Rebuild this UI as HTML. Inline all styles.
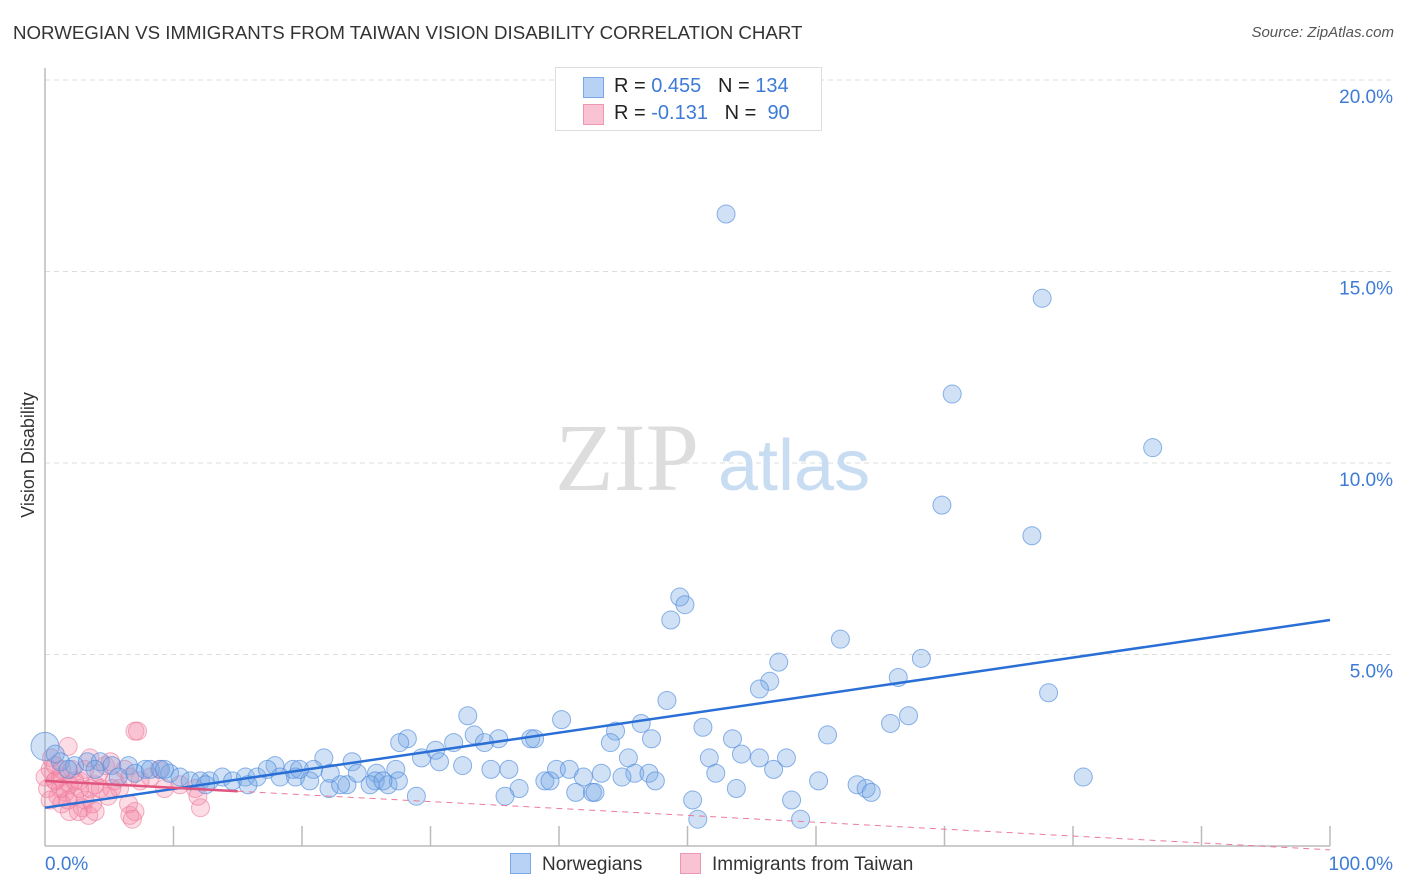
<!DOCTYPE html>
<html><head><meta charset="utf-8">
<style>
body{margin:0;background:#fff;font-family:"Liberation Sans",sans-serif;}
#wrap{position:relative;width:1406px;height:892px;overflow:hidden}
.t{position:absolute;white-space:nowrap}
</style></head>
<body><div id="wrap">
<div class="t" style="left:13px;top:22px;font-size:18.7px;color:#333">NORWEGIAN VS IMMIGRANTS FROM TAIWAN VISION DISABILITY CORRELATION CHART</div>
<div class="t" style="right:12px;top:24px;font-size:15px;color:#555;font-style:italic">Source: ZipAtlas.com</div>
<svg id="svg" width="1406" height="892" style="position:absolute;left:0;top:0"></svg>
</div>
<script>
const yTicks=[5,10,15,20];
const xLabels=["0.0%","100.0%"];
const blueX=[53.0,77.6,70.6,86.2,69.8,76.8,49.4,49.8,48.7,61.9,68.2,57.1,56.4,55.6,66.4,78.1,48.4,32.9,40.2,67.2,65.8,46.4,51.2,44.4,28.2,33.4,35.3,37.8,47.2,53.5,60.9,27.6,34.2,38.1,44.0,54.2,21.7,23.9,29.3,30.4,31.8,30.7,32.5,51.7,55.6,57.7,45.4,17.9,19.3,20.9,25.8,27.3,36.1,39.8,40.8,34.7,43.3,45.9,47.0,52.2,56.7,41.9,44.9,47.5,80.8,60.2,63.2,63.9,64.3,53.8,38.9,36.9,39.3,41.3,42.6,42.8,35.8,28.9,50.4,58.1,50.8,58.8,0,1.2,2.3,3.3,4.3,5.2,6.5,7.8,9.0,9.7,10.5,11.3,12.1,12.8,13.8,14.6,15.6,16.5,17.3,18.3,19.5,20.6,22.1,23.5,24.3,25.7,26.7,27.5,0.8,1.8,3.9,5.7,7.0,8.2,9.3,12.5,15.8,19.8,22.2,23.0,25.3,26.3];
const blueY=[16.5,14.3,11.8,10.4,8.9,8.1,6.5,6.3,5.9,5.4,4.9,4.8,4.3,4.1,4.4,4.0,3.8,3.4,3.3,3.4,3.2,3.2,3.1,3.0,2.8,2.9,2.8,2.8,2.8,2.8,2.9,2.7,2.7,2.8,2.7,2.4,2.3,2.2,2.3,2.5,2.7,2.2,2.1,2.3,2.3,2.3,2.3,2.1,2.0,2.0,1.9,2.0,2.0,2.0,2.0,2.0,1.9,1.9,1.9,1.9,2.0,1.8,1.8,1.7,1.8,1.7,1.6,1.5,1.4,1.5,1.7,1.5,1.7,1.4,1.4,1.4,1.3,1.3,1.2,1.2,0.7,0.7,2.6,2.2,2.1,2.2,2.2,2.1,2.1,2.0,2.0,1.9,1.8,1.7,1.7,1.7,1.8,1.7,1.8,1.8,2.0,1.8,1.8,1.7,1.5,1.6,1.9,1.7,1.6,1.7,2.4,2.0,2.0,1.8,1.9,2.0,2.0,1.6,1.6,2.0,1.9,1.6,1.6,1.7];
const pinkX=[0.4,0.8,1.2,1.6,1.9,2.3,2.7,3.1,3.5,3.9,0.5,1.0,1.3,1.8,2.1,2.6,2.9,3.4,3.7,4.2,4.7,5.1,5.4,5.8,6.2,6.6,7.4,8.2,8.9,9.3,10.5,11.7,12.1,11.9,6.5,6.6,7.0,6.8,7.0,7.2,1.8,0.8,1.2,4.3,4.9,5.2,3.1,3.5,0.2,0.4,0,2.3,2.7,3.9,1.9,0.8,1.3];
const pinkY=[2.0,1.7,1.8,1.4,1.6,1.3,1.7,1.2,1.5,1.6,2.3,1.3,1.1,1.2,2.0,0.9,1.0,0.8,1.1,1.9,2.1,2.2,1.7,1.5,2.0,1.8,1.7,1.8,2.0,1.5,1.6,1.5,1.0,1.3,1.1,0.8,0.9,0.7,3.0,3.0,2.6,1.7,1.5,1.5,1.3,1.5,2.0,2.3,1.5,1.2,1.8,1.7,1.5,0.9,0.9,2.1,2.0];
const blueLine=[1.0,5.9];
const pinkLine=[1.7,-0.1];
const X=v=>45+v*12.85, Y=v=>846-v*38.3;
const s=document.getElementById('svg');const NS='http://www.w3.org/2000/svg';
function mk(t,a){const e=document.createElementNS(NS,t);for(const k in a)e.setAttribute(k,a[k]);s.appendChild(e);return e;}
yTicks.forEach(v=>{
 const g=mk('line',{x1:45,x2:1393,y1:Y(v),y2:Y(v),stroke:'#ddd','stroke-dasharray':'5,4'});
 
 
 const t=mk('text',{x:1393,y:Y(v)+23,'text-anchor':'end','font-size':19,fill:'#3d7bd6'});t.textContent=v.toFixed(1)+'%';
 
 
});
let ax=mk('line',{x1:45,x2:45,y1:68,y2:846,stroke:'#bbb','stroke-width':1.5});


ax=mk('line',{x1:45,x2:1330,y1:846,y2:846,stroke:'#bbb','stroke-width':1.5});


for(let i=1;i<=10;i++){const tk=mk('line',{x1:X(i*10),x2:X(i*10),y1:826,y2:846,stroke:'#bbb','stroke-width':1.5});
 
 }
[[0,'start',45],[100,'end',1393]].forEach((d,i)=>{const t=mk('text',{x:d[2],y:870,'text-anchor':d[1],'font-size':19,fill:'#3d7bd6'});t.textContent=xLabels[i];
 
 });
let yt=mk('text',{x:34,y:455,'text-anchor':'middle','font-size':18,fill:'#333',transform:'rotate(-90 34 455)'});yt.textContent='Vision Disability';


let w=mk('text',{x:555,y:490,'font-size':96,fill:'#ddd','font-family':'Liberation Serif'});w.textContent='ZIP';


w=mk('text',{x:718,y:490,'font-size':72,fill:'#c8dcf2'});w.textContent='atlas';


pinkX.forEach((x,i)=>{const c=mk('circle',{cx:X(x),cy:Y(pinkY[i]),r:9,fill:'rgba(244,140,170,0.3)',stroke:'rgba(236,120,155,0.6)','stroke-width':1});
 
 });
blueX.forEach((x,i)=>{const c=mk('circle',{cx:X(x),cy:Y(blueY[i]),r:(i===82)?14:9,fill:'rgba(120,170,230,0.35)',stroke:'rgba(80,140,220,0.65)','stroke-width':1});
 
 });
let l=mk('line',{x1:X(0),y1:Y(blueLine[0]),x2:X(100),y2:Y(blueLine[1]),stroke:'#2a6fd6','stroke-width':2.5});


const pAt=v=>pinkLine[0]+(pinkLine[1]-pinkLine[0])*v/100;
l=mk('line',{x1:X(15),y1:Y(pAt(15)),x2:X(100),y2:Y(pAt(100)),stroke:'#ec7a9c','stroke-width':1,'stroke-dasharray':'6,5'});


l=mk('line',{x1:X(0),y1:Y(pAt(0)),x2:X(15),y2:Y(pAt(15)),stroke:'#e0557f','stroke-width':2.5});


</script>
<div class="t" style="left:555px;top:67px;width:265px;height:62px;border:1px solid #ddd;background:#fff">
 <div style="position:absolute;left:27px;top:9px;width:19px;height:19px;background:#b7d2f5;border:1px solid #7aa8e6"></div>
 <div style="position:absolute;left:27px;top:36px;width:19px;height:19px;background:#fac3d3;border:1px solid #ee97b2"></div>
 <div class="t" style="left:58px;top:7px;font-size:20px;color:#222">R = <span style="color:#3d7bd6">0.455</span>&nbsp;&nbsp;&nbsp;N = <span style="color:#3d7bd6">134</span></div>
 <div class="t" style="left:58px;top:34px;font-size:20px;color:#222">R = <span style="color:#3d7bd6">-0.131</span>&nbsp;&nbsp;&nbsp;N = &nbsp;<span style="color:#3d7bd6">90</span></div>
</div>
<div class="t" style="left:510px;top:853px;font-size:19px;color:#333"><span style="display:inline-block;width:19px;height:19px;background:#b7d2f5;border:1px solid #7aa8e6;vertical-align:-4px;margin-right:11px"></span>Norwegians</div>
<div class="t" style="left:680px;top:853px;font-size:19px;color:#333"><span style="display:inline-block;width:19px;height:19px;background:#fac3d3;border:1px solid #ee97b2;vertical-align:-4px;margin-right:11px"></span>Immigrants from Taiwan</div>
</body></html>
